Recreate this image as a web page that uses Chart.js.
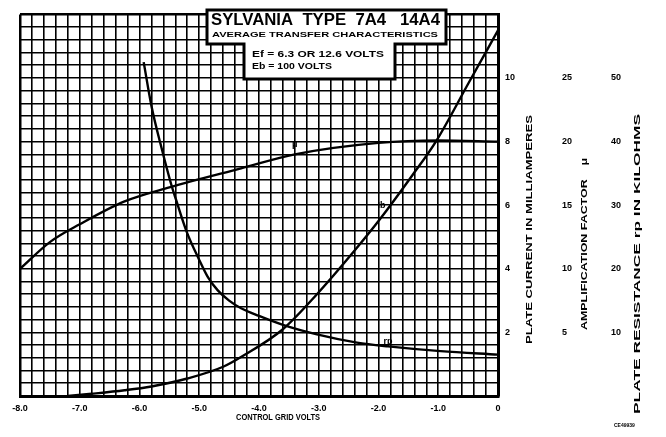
<!DOCTYPE html>
<html>
<head>
<meta charset="utf-8">
<script src="https://cdn.jsdelivr.net/npm/chart.js@4/dist/chart.umd.min.js"></script>
<style>
  body { margin: 0; background: #fff; }
  canvas { display: block; }
</style>
</head>
<body>
<canvas id="tubeChart" width="666" height="437"></canvas>
<script>
// plate current Ib (mA) vs control grid volts
const ibVolts  = [-7.2, -6.8, -6.25, -5.8, -5.2, -4.6, -4.28, -3.6, -3.03, -2.41, -2.0, -1.43, -1.04, -0.49, 0];
const ibValues = [0, 0.07, 0.18, 0.3, 0.55, 0.92, 1.25, 2.1, 3.2, 4.55, 5.5, 6.95, 8.0, 9.85, 11.5];

// amplification factor mu
const muVolts  = [-8.0, -7.5, -7.0, -6.25, -5.5, -4.3, -3.4, -2.0, -1.0, 0];
const muValues = [10.0, 12.1, 13.5, 15.3, 16.4, 17.9, 19.0, 19.9, 20.1, 20.0];

// plate resistance rp (kilohms)
const rpVolts  = [-5.93, -5.8, -5.62, -5.47, -5.39, -5.21, -5.0, -4.85, -4.69, -4.5, -4.3, -4.0, -3.6, -3.03, -2.36, -1.84, -0.96, 0];
const rpValues = [52.5, 45.6, 38.6, 33.3, 30.9, 25.8, 21.4, 18.6, 16.6, 15.0, 13.8, 12.6, 11.2, 9.7, 8.4, 7.8, 7.05, 6.5];

const xLabels  = [-8, -7, -6, -5, -4, -3, -2, -1, 0];
const ibTicks  = [2, 4, 6, 8, 10];
const muTicks  = [5, 10, 15, 20, 25];
const rpTicks  = [10, 20, 30, 40, 50];

const FONT = '"Liberation Sans", Arial, sans-serif';

function pts(xs, ys) {
  return xs.map((x, i) => ({ x: x, y: ys[i] }));
}

function near(v, list) {
  return list.some(t => Math.abs(v - t) < 1e-6);
}

function curve(label, data, axis) {
  return {
    label: label,
    data: data,
    yAxisID: axis,
    borderColor: '#000',
    borderWidth: 2.4,
    pointRadius: 0,
    fill: false,
    cubicInterpolationMode: 'monotone'
  };
}

function fitText(ctx, text, x, y, width, font) {
  ctx.font = font;
  const w = ctx.measureText(text).width;
  ctx.save();
  ctx.translate(x, y);
  ctx.scale(width / w, 1);
  ctx.fillText(text, 0, 0);
  ctx.restore();
}

/* =========================
   DECORATIONS (box, titles, curve tags)
 ========================= */
const decorations = {
  id: 'decorations',
  afterDatasetsDraw(chart) {
    const ctx = chart.ctx;
    const sx = chart.scales.x;
    const sy = chart.scales.y;
    ctx.save();

    // title box
    ctx.beginPath();
    ctx.moveTo(207, 10);
    ctx.lineTo(446, 10);
    ctx.lineTo(446, 44);
    ctx.lineTo(395, 44);
    ctx.lineTo(395, 79);
    ctx.lineTo(244, 79);
    ctx.lineTo(244, 44);
    ctx.lineTo(207, 44);
    ctx.closePath();
    ctx.fillStyle = '#fff';
    ctx.fill();
    ctx.lineWidth = 3;
    ctx.strokeStyle = '#000';
    ctx.stroke();

    ctx.fillStyle = '#000';
    ctx.textBaseline = 'middle';
    ctx.textAlign = 'left';
    fitText(ctx, 'SYLVANIA  TYPE  7A4   14A4', 211, 21, 229, 'bold 16px ' + FONT);
    fitText(ctx, 'AVERAGE TRANSFER CHARACTERISTICS', 212, 35, 226, 'bold 8px ' + FONT);
    fitText(ctx, 'Ef = 6.3 OR 12.6 VOLTS', 252, 55, 132, 'bold 9px ' + FONT);
    fitText(ctx, 'Eb = 100 VOLTS', 252, 67, 80, 'bold 9px ' + FONT);

    // curve tags
    ctx.font = 'bold 9px ' + FONT;
    ctx.textAlign = 'center';
    ctx.fillText('μ', sx.getPixelForValue(-3.4), sy.getPixelForValue(7.9));
    ctx.fillText('Ib', sx.getPixelForValue(-1.95), sy.getPixelForValue(6.0));
    ctx.fillText('rp', sx.getPixelForValue(-1.84), sy.getPixelForValue(1.7));

    // axis titles; the right ones read bottom to top
    ctx.textAlign = 'left';
    fitText(ctx, 'CONTROL GRID VOLTS', 236, 418, 84, 'bold 9px ' + FONT);
    const titles = [
      [chart.scales.y, 'PLATE CURRENT IN MILLIAMPERES', 32, 229, 344],
      [chart.scales.yMu, 'AMPLIFICATION FACTOR    μ', 31, 172, 330],
      [chart.scales.yRp, 'PLATE RESISTANCE rp IN KILOHMS', 36, 300, 414]
    ];
    titles.forEach(([scale, text, off, len, bottom]) => {
      ctx.save();
      ctx.translate(scale.left + off, bottom);
      ctx.rotate(-Math.PI / 2);
      fitText(ctx, text, 0, 0, len, 'bold 9px ' + FONT);
      ctx.restore();
    });

    ctx.font = 'bold 5px ' + FONT;
    ctx.fillText('CE49939', 614, 426);
    ctx.restore();
  }
};

function rightAxis(min, max, step, labels, width, pad) {
  return {
    type: 'linear',
    position: 'right',
    min: min,
    max: max,
    afterFit: s => { s.width = width; },
    border: { display: false },
    grid: { display: false, drawTicks: false },
    ticks: {
      stepSize: step,
      maxTicksLimit: 200,
      autoSkip: false,
      padding: pad,
      color: '#000',
      font: { family: FONT, size: 9, weight: 'bold' },
      callback: v => near(v, labels) ? String(Math.round(v)) : ''
    }
  };
}

const chart = new Chart(document.getElementById('tubeChart'), {
  type: 'line',
  data: {
    datasets: [
      curve('Ib', pts(ibVolts, ibValues), 'y'),
      curve('mu', pts(muVolts, muValues), 'yMu'),
      curve('rp', pts(rpVolts, rpValues), 'yRp')
    ]
  },
  options: {
    responsive: false,
    animation: false,
    devicePixelRatio: 1,
    layout: { padding: { left: 20, top: 13, right: 0, bottom: 0 } },
    plugins: { legend: { display: false }, tooltip: { enabled: false } },
    scales: {
      x: {
        type: 'linear',
        min: -8,
        max: 0,
        afterFit: s => { s.height = 41; },
        border: { display: true, color: '#000', width: 3 },
        grid: {
          color: '#000',
          drawTicks: false,
          lineWidth: c => near(c.tick.value, [-8]) ? 2.5 : 1.6
        },
        ticks: {
          stepSize: 0.2,
          maxTicksLimit: 200,
          autoSkip: false,
          maxRotation: 0,
          padding: 7,
          color: '#000',
          font: { family: FONT, size: 9, weight: 'bold' },
          callback: v => near(v, xLabels) ? (Math.abs(v) < 1e-6 ? '0' : v.toFixed(1)) : ''
        }
      },
      y: Object.assign(rightAxis(0, 12, 0.4, ibTicks, 56, 7), {
        border: { display: true, color: '#000', width: 3 },
        grid: {
          color: '#000',
          drawTicks: false,
          lineWidth: c => near(c.tick.value, [12]) ? 2.5 : 1.6
        }
      }),
      yMu: rightAxis(0, 30, 5, muTicks, 48, 8),
      yRp: rightAxis(0, 60, 10, rpTicks, 64, 9)
    }
  },
  plugins: [decorations]
});
</script>
</body>
</html>
